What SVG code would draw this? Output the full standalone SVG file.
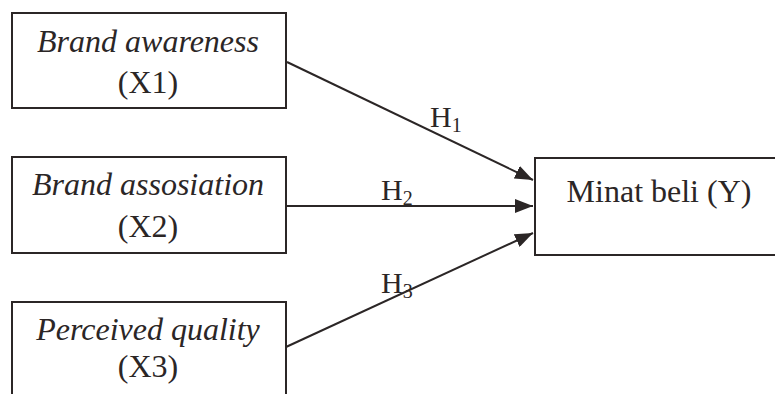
<svg xmlns="http://www.w3.org/2000/svg" width="775" height="394" viewBox="0 0 775 394">
<style>
.box{fill:#fff;stroke:#2b2626;stroke-width:2}
.t{font-family:"Liberation Serif","Times New Roman",serif;font-size:32px;fill:#2b2626;text-anchor:middle}
.i{font-style:italic}
.h{font-family:"Liberation Serif","Times New Roman",serif;font-size:30px;fill:#2b2626}
.sub{font-size:20px}
.c{stroke:#2b2626;stroke-width:2;fill:none}
</style>
<defs>
<marker id="ah" markerUnits="userSpaceOnUse" markerWidth="20" markerHeight="14" refX="18" refY="7" orient="auto">
<path d="M0,0 L18,7 L0,14 Z" fill="#2b2626"/>
</marker>
</defs>
<rect width="775" height="394" fill="#fff"/>
<g id="x1">
<rect class="box" x="12" y="13" width="274" height="95"/>
<text class="t i" x="148" y="52">Brand awareness</text>
<text class="t" x="148" y="93">(X1)</text>
</g>
<g id="x2">
<rect class="box" x="12" y="157" width="274" height="96"/>
<text class="t i" x="148" y="195">Brand assosiation</text>
<text class="t" x="148" y="237">(X2)</text>
</g>
<g id="x3">
<rect class="box" x="12" y="302" width="274" height="100"/>
<text class="t i" x="148" y="340">Perceived quality</text>
<text class="t" x="148" y="377">(X3)</text>
</g>
<g id="y">
<rect class="box" x="535" y="158" width="250" height="97"/>
<text class="t" x="659" y="202">Minat beli (Y)</text>
</g>
<g id="connectors">
<line class="c" x1="287" y1="62" x2="533" y2="180" marker-end="url(#ah)"/>
<line class="c" x1="287" y1="206" x2="533" y2="206" marker-end="url(#ah)"/>
<line class="c" x1="286" y1="347" x2="533" y2="233" marker-end="url(#ah)"/>
<text class="h" x="430" y="127">H<tspan class="sub" dy="5">1</tspan></text>
<text class="h" x="381" y="200">H<tspan class="sub" dy="5">2</tspan></text>
<text class="h" x="381" y="293">H<tspan class="sub" dy="5">3</tspan></text>
</g>
</svg>
